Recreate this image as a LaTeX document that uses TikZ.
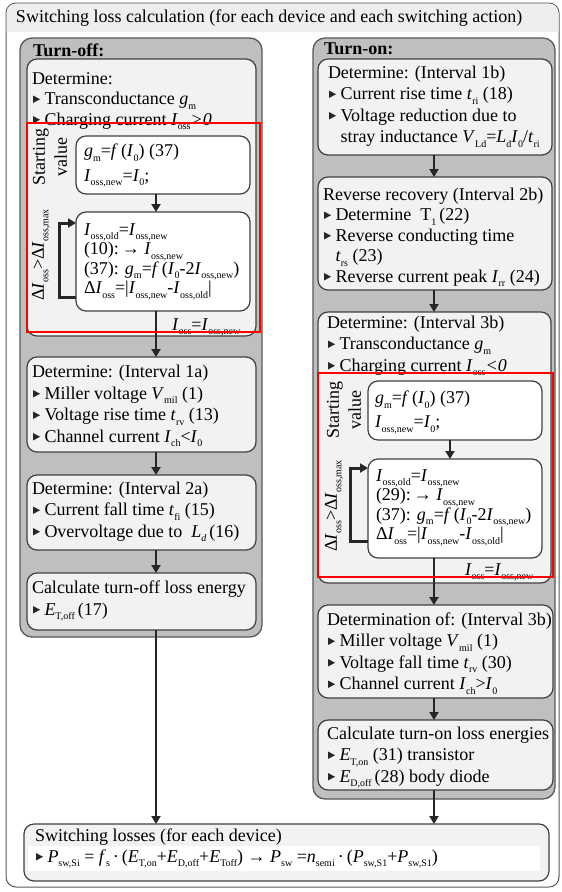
\documentclass[tikz,border=0pt]{standalone}
\usepackage{fontspec}
\setmainfont{Liberation Serif}
\usetikzlibrary{arrows.meta}
\definecolor{darkfill}{HTML}{BFBFBF}
\definecolor{lightfill}{HTML}{F2F2F2}
\definecolor{titlefill}{HTML}{EEEEEE}
\newcommand\lo[1]{\raisebox{-4.5pt}{\fontsize{10}{10}\selectfont #1}}
\newcommand\vs[2]{\textit{#1}\lo{#2}}
\newcommand\bul{\hspace{1pt}\tikz[baseline=0pt]\fill[black!85] (0pt,1.5pt)--(0pt,9pt)--(7pt,5.25pt)--cycle;\hspace{4.5pt}}
\newcommand\fst{\rule{0pt}{13pt}}
\begin{document}
\begin{tikzpicture}[x=1pt,y=-1pt,
  outerbox/.style={draw=black!65, fill=white, line width=1pt, rounded corners=10pt, anchor=north west, inner sep=0pt, outer sep=0pt},
  darkbox/.style={draw=black!65, fill=darkfill, line width=1.3pt, rounded corners=12pt, anchor=north west, inner sep=0pt, outer sep=0pt},
  ibox/.style={draw=black!75, fill=lightfill, line width=1.2pt, rounded corners=10pt, anchor=north west, inner sep=0pt, outer sep=0pt},
  wbox/.style={ibox, fill=white},
  redbox/.style={draw=red, line width=2.5pt},
  arr/.style={draw=black!85, line width=2.6pt, -{Triangle[length=8pt,width=9pt]}},
  loopl/.style={draw=black!85, line width=3pt, -{Triangle[length=8pt,width=9pt]}},
  tl/.style={anchor=north west, inner sep=0pt, outer sep=0pt, align=left, yshift=13pt, font=\fontsize{18}{21.5}\selectfont},
  rot/.style={rotate=90, inner sep=0pt, align=center, font=\fontsize{18}{22}\selectfont}
]
\useasboundingbox (0,0) rectangle (562,892);
% outer frame
\node[outerbox, minimum width=553pt, minimum height=884pt] (frame) at (6,3) {};
\fill[titlefill] (6.5,32) -- (6.5,13) arc[start angle=180, end angle=90, radius=9.5pt] -- (549,3.5) arc[start angle=90, end angle=0, radius=9.5pt] -- (558.5,32) -- cycle;
\node[tl] (title) at (16,22) {\fst Switching loss calculation (for each device and each switching action)};
% columns
\node[darkbox, minimum width=242pt, minimum height=599pt] (toff) at (20,38) {};
\node[darkbox, minimum width=242pt, minimum height=761pt] (ton) at (313,38) {};
\node[tl, font=\bfseries\fontsize{18}{21}\selectfont] (tofft) at (33,56) {\fst Turn-off:};
\node[tl, font=\bfseries\fontsize{18}{21}\selectfont] (tont) at (324,54) {\fst Turn-on:};
% left boxes
\node[ibox, minimum width=229pt, minimum height=277pt] (ldet) at (27,59) {};
\node[wbox, minimum width=174pt, minimum height=58pt] (lsv) at (76,136) {};
\node[wbox, minimum width=174pt, minimum height=99pt] (lloop) at (76,212) {};
\node[ibox, minimum width=229pt, minimum height=95pt] (l1a) at (27,357) {};
\node[ibox, minimum width=229pt, minimum height=75pt] (l2a) at (27,475) {};
\node[ibox, minimum width=229pt, minimum height=57pt] (lcalc) at (27,573) {};
% right boxes
\node[ibox, minimum width=234pt, minimum height=96pt] (r1b) at (318,59) {};
\node[ibox, minimum width=234pt, minimum height=113pt] (rrr) at (318,177) {};
\node[ibox, minimum width=233pt, minimum height=271pt] (r3b) at (318,312) {};
\node[wbox, minimum width=174pt, minimum height=59pt] (rsv) at (368,381) {};
\node[wbox, minimum width=174pt, minimum height=99pt] (rloop) at (368,459) {};
\node[ibox, minimum width=235pt, minimum height=93pt] (rdo) at (318,605) {};
\node[ibox, minimum width=235pt, minimum height=70pt] (rcalc) at (318,720) {};
% summary
\node[ibox, minimum width=525pt, minimum height=57pt] (sum) at (24,824) {};
\fill[white] (28,846) rectangle (540,871);
% texts left
\node[tl, font=\fontsize{18}{20.5}\selectfont] (tldet) at (32,84) {\fst Determine:\\ \bul Transconductance \vs{g}{m}\\ \bul Charging current \vs{I}{oss}\textit{>0}};
\node[tl, font=\fontsize{18}{24.5}\selectfont] (tlsv) at (84,156.5) {\fst\vs{g}{m}=\textit{f}\,(\vs{I}{0}) (37)\\ \vs{I}{oss,new}=\vs{I}{0};};
\node[tl, font=\fontsize{18}{19.5}\selectfont] (tlloop) at (84,235) {\fst\vs{I}{oss,old}=\vs{I}{oss,new}\\ (10):\,→ \vs{I}{oss,new}\\ (37): \vs{g}{m}=\textit{f}\,(\vs{I}{0}-2\vs{I}{oss,new})\\ Δ\vs{I}{oss}=|\vs{I}{oss,new}-\vs{I}{oss,old}|};
\node[rot] (lstart) at (50,157) {Starting\\value};
\node[rot] (ldelta) at (41,255) {Δ\vs{I}{oss}>Δ\vs{I}{oss,max}};
\node[tl] (tl1a) at (32,377.5) {\fst Determine: (Interval 1a)\\ \bul Miller voltage \vs{V}{mil} (1)\\ \bul Voltage rise time \vs{t}{rv} (13)\\ \bul Channel current \vs{I}{ch}<\vs{I}{0}};
\node[tl] (tl2a) at (32,494) {\fst Determine: (Interval 2a)\\ \bul Current fall time \vs{t}{fi} (15)\\ \bul Overvoltage due to \ \textit{L}\lo{\textit{d}}\,(16)};
\node[tl, font=\fontsize{18}{22}\selectfont] (tlcalc) at (32,593) {\fst Calculate turn-off loss energy\\ \bul \vs{E}{T,off}\,(17)};
% texts right
\node[tl] (tr1b) at (328,78) {\fst Determine: (Interval 1b)\\ \bul Current rise time \vs{t}{ri} (18)\\ \bul Voltage reduction due to\\ \hspace*{12.5pt}stray inductance \vs{V}{Ld}=\vs{L}{d}\vs{I}{0}/\vs{t}{ri}};
\node[tl, font=\fontsize{18}{20.5}\selectfont] (trrr) at (323,200) {\fst Reverse recovery (Interval 2b)\\ \bul Determine \ T\lo{1}\,(22)\\ \bul Reverse conducting time\\ \hspace*{12.5pt}\vs{t}{rs} (23)\\ \bul Reverse current peak \vs{I}{rr} (24)};
\node[tl] (tr3b) at (327,328) {\fst Determine: (Interval 3b)\\ \bul Transconductance \vs{g}{m}\\ \bul Charging current \vs{I}{oss}\textit{<0}};
\node[tl, font=\fontsize{18}{24}\selectfont] (trsv) at (375,403.5) {\fst\vs{g}{m}=\textit{f}\,(\vs{I}{0}) (37)\\ \vs{I}{oss,new}=\vs{I}{0};};
\node[tl, font=\fontsize{18}{19.5}\selectfont] (trloop) at (376,481) {\fst\vs{I}{oss,old}=\vs{I}{oss,new}\\ (29):\,→ \vs{I}{oss,new}\\ (37): \vs{g}{m}=\textit{f}\,(\vs{I}{0}-2\vs{I}{oss,new})\\ Δ\vs{I}{oss}=|\vs{I}{oss,new}-\vs{I}{oss,old}|};
\node[rot] (rstart) at (344,410) {Starting\\value};
\node[rot] (rdelta) at (334,506) {Δ\vs{I}{oss}>Δ\vs{I}{oss,max}};
\node[tl] (trdo) at (327,625) {\fst Determination of: (Interval 3b)\\ \bul Miller voltage \vs{V}{mil} (1)\\ \bul Voltage fall time \vs{t}{rv} (30)\\ \bul Channel current \vs{I}{ch}>\vs{I}{0}};
\node[tl] (trcalc) at (327,739) {\fst Calculate turn-on loss energies\\ \bul \vs{E}{T,on} (31) transistor\\ \bul \vs{E}{D,off}\,(28) body diode};
% summary text
\node[tl, font=\fontsize{18}{21}\selectfont] (tsum) at (35,841) {\fst Switching losses (for each device)\\ \bul \vs{P}{sw,Si} = \vs{f}{s}\,·\,(\vs{E}{T,on}+\vs{E}{D,off}+\vs{E}{Toff}) → \vs{P}{sw} =\vs{n}{semi}\,·\,(\vs{P}{sw,S1}+\vs{P}{sw,S1})};
% connectors
\coordinate (xl) at (156,0);
\coordinate (xr) at (434,0);
\coordinate (xrs) at (450,0);
\draw[arr] (lsv.south -| xl) -- (lloop.north -| xl);
\draw[arr] (lloop.south -| xl) -- (l1a.north -| xl);
\draw[arr] (l1a.south -| xl) -- (l2a.north -| xl);
\draw[arr] (l2a.south -| xl) -- (lcalc.north -| xl);
\draw[arr] (lcalc.south -| xl) -- (sum.north -| xl);
\draw[arr] (r1b.south -| xr) -- (rrr.north -| xr);
\draw[arr] (rrr.south -| xr) -- (r3b.north -| xr);
\draw[arr] (rsv.south -| xrs) -- (rloop.north -| xrs);
\draw[arr] (rloop.south -| xr) -- (rdo.north -| xr);
\draw[arr] (rdo.south -| xr) -- (rcalc.north -| xr);
\draw[arr] (rcalc.south -| xr) -- (sum.north -| xr);
\coordinate (la) at (59,297);
\coordinate (lb) at (59,223);
\coordinate (ra) at (350,541);
\coordinate (rb) at (350,468);
\draw[loopl] (lloop.west |- la) -- (la) -- (lb) -- (lloop.west |- lb);
\draw[loopl] (rloop.west |- ra) -- (ra) -- (rb) -- (rloop.west |- rb);
% clipped exit labels
\begin{scope}
\clip[rounded corners=10pt] (27,59) rectangle (256,335);
\node[tl] (lexit) at (172,330) {\fst\vs{I}{oss}=\vs{I}{oss,new}};
\end{scope}
\begin{scope}
\clip[rounded corners=10pt] (318,312) rectangle (551,582);
\node[tl] (rexit) at (465,575) {\fst\vs{I}{oss}=\vs{I}{oss,new}};
\end{scope}
% highlight rectangles
\draw[redbox] (27,123) rectangle (260,332);
\draw[redbox] (318,373) rectangle (553,577);
\end{tikzpicture}
\end{document}
